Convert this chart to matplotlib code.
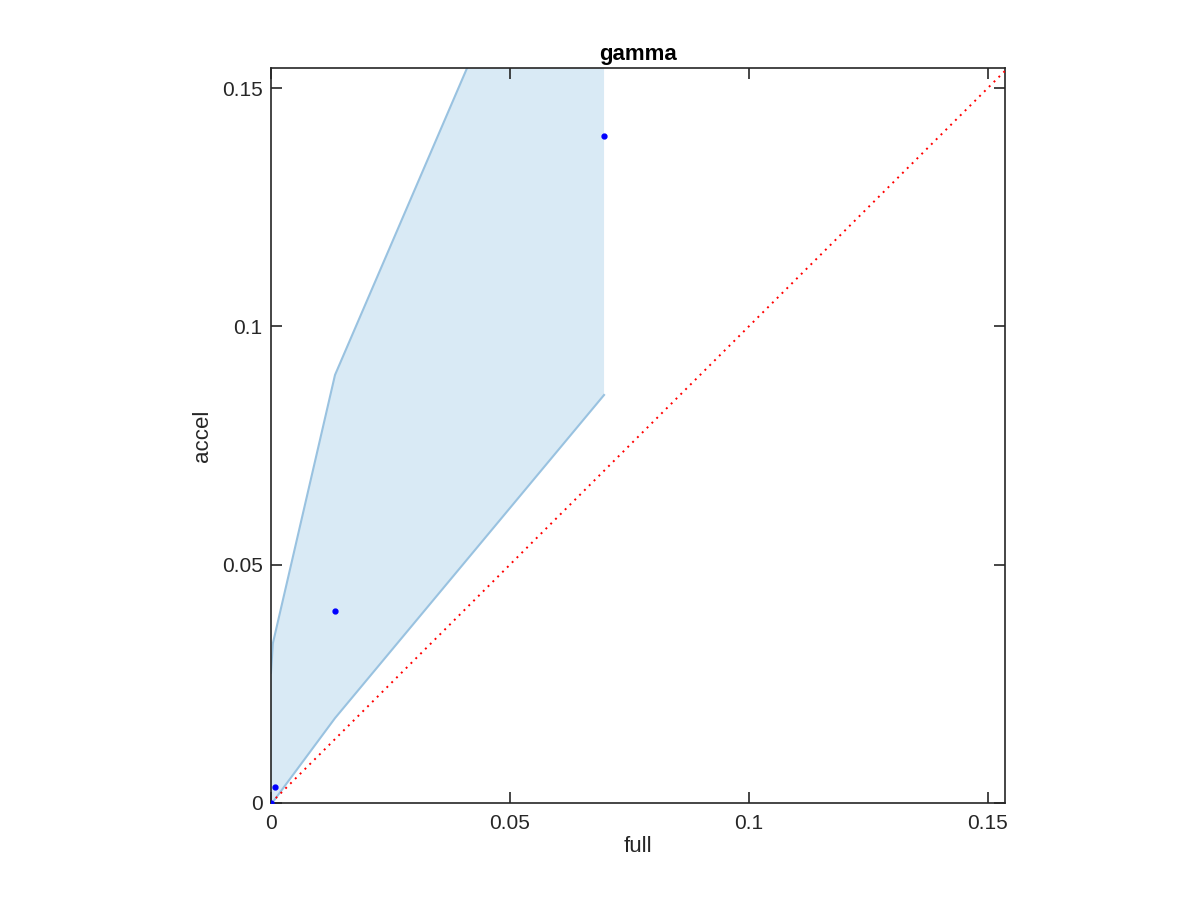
import numpy as np
import matplotlib
matplotlib.use("Agg")
import matplotlib.pyplot as plt

plt.rcParams['font.family'] = ['Liberation Sans', 'DejaVu Sans']

# values
full = [0.0, 0.00084, 0.0134, 0.0697]
accel = [0.0, 0.0034, 0.0403, 0.1399]
band_x = [0.0, 0.0004, 0.0134, 0.0697]
band_lo = [0.0, 0.0002, 0.0178, 0.0856]
band_hi = [0.0273, 0.0335, 0.0898, 0.221]
lim = 0.1538
ticks = [0, 0.05, 0.1, 0.15]
ticklabels = ["0", "0.05", "0.1", "0.15"]

fig = plt.figure(figsize=(12, 9), dpi=100)
ax = fig.add_axes([0.2258, 0.1078, 0.6117, 0.8166])

ax.fill_between(band_x, band_lo, band_hi, color=(0.851, 0.918, 0.961), lw=0, zorder=1)
ax.plot(band_x, band_lo, color=(0.60, 0.76, 0.88), lw=1.5, zorder=2)
ax.plot(band_x, band_hi, color=(0.60, 0.76, 0.88), lw=1.5, zorder=2)
ax.plot([0, lim], [0, lim], color='red', ls=(0, (1, 2.5)), lw=1.4, zorder=3)
ax.plot(full, accel, 'o', color='blue', ms=3.5, zorder=4)

ax.set_xlim(0, 0.1536)
ax.set_ylim(0, 0.1542)
ax.set_xticks(ticks)
ax.set_xticklabels(ticklabels)
ax.set_yticks(ticks)
ax.set_yticklabels(ticklabels)
ax.tick_params(direction='in', length=8, width=1.2, top=True, right=True,
               labelsize=15, colors='#262626')
ax.tick_params(axis='x', pad=8)
ax.tick_params(axis='y', pad=6)
for s in ax.spines.values():
    s.set_linewidth(1.2)
    s.set_color('#262626')

ax.set_xlabel("full", fontsize=16, color='#262626', labelpad=2)
ax.set_ylabel("accel", fontsize=16, color='#262626', labelpad=6)
ax.set_title("gamma", fontsize=16, fontweight='bold', pad=6)

fig.savefig("out.png", dpi=100)
